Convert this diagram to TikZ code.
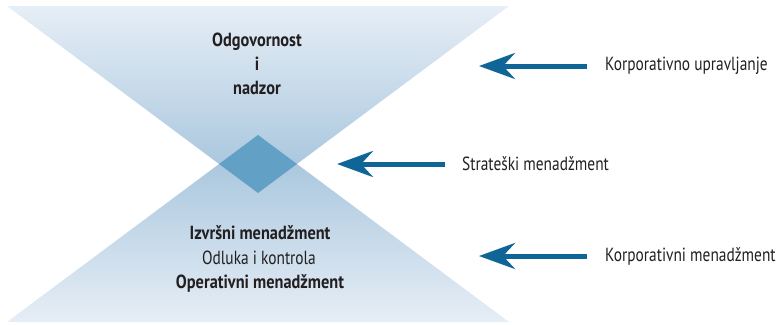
\documentclass[tikz,border=0pt]{standalone}
\usepackage{fontspec}
\setmainfont[FakeStretch=0.81, BoldFeatures={FakeStretch=0.86}]{PT Sans}
\usetikzlibrary{arrows.meta}
\definecolor{tripale}{HTML}{E6EEF6}
\definecolor{trideep}{HTML}{A0C1DA}
\definecolor{overlap}{HTML}{62A0C6}
\definecolor{arrowblue}{HTML}{0F6696}
\definecolor{ink}{HTML}{231F20}
\tikzset{
  lbl/.style={text=ink, inner sep=0pt, font=\fontsize{19}{24}\selectfont},
  boldlbl/.style={lbl, font=\fontsize{19}{24}\selectfont\bfseries},
  sidelbl/.style={lbl, anchor=west},
  pointer/.style={draw=arrowblue, line width=5pt,
    -{Stealth[length=36pt, width=26pt, inset=12pt]}},
}
\begin{document}
\begin{tikzpicture}[x=1pt, y=-1pt]
  \useasboundingbox (0,0) rectangle (779,324);
  % upper and lower triangles
  \shade[top color=tripale, bottom color=trideep] (7,6) -- (509,6) -- (258,193) -- cycle;
  \shade[top color=trideep, bottom color=tripale] (7,322) -- (509,322) -- (258,135) -- cycle;
  % their overlap
  \fill[overlap] (258,135) -- (219.1,164) -- (258,193) -- (296.9,164) -- cycle;

  % texts inside the triangles
  \node[boldlbl, align=center] (top) at (257,64) {Odgovornost\\i\\nadzor};
  \node[boldlbl] (exec) at (260,233) {Izvršni menadžment};
  \node[lbl] (dec) at (259,258) {Odluka i kontrola};
  \node[boldlbl] (oper) at (260,283) {Operativni menadžment};

  % side labels and pointers
  \node[sidelbl] (gov) at (605,66) {Korporativno upravljanje};
  \node[sidelbl] (strat) at (462,164) {Strateški menadžment};
  \node[sidelbl] (corp) at (605,256) {Korporativni menadžment};
  \coordinate (govtip) at (479,66);
  \coordinate (strattip) at (337,164);
  \coordinate (corptip) at (479,256);
  \draw[pointer] ([xshift=-18pt]gov.west) -- (govtip);
  \draw[pointer] ([xshift=-17pt]strat.west) -- (strattip);
  \draw[pointer] ([xshift=-18pt]corp.west) -- (corptip);
\end{tikzpicture}
\end{document}
